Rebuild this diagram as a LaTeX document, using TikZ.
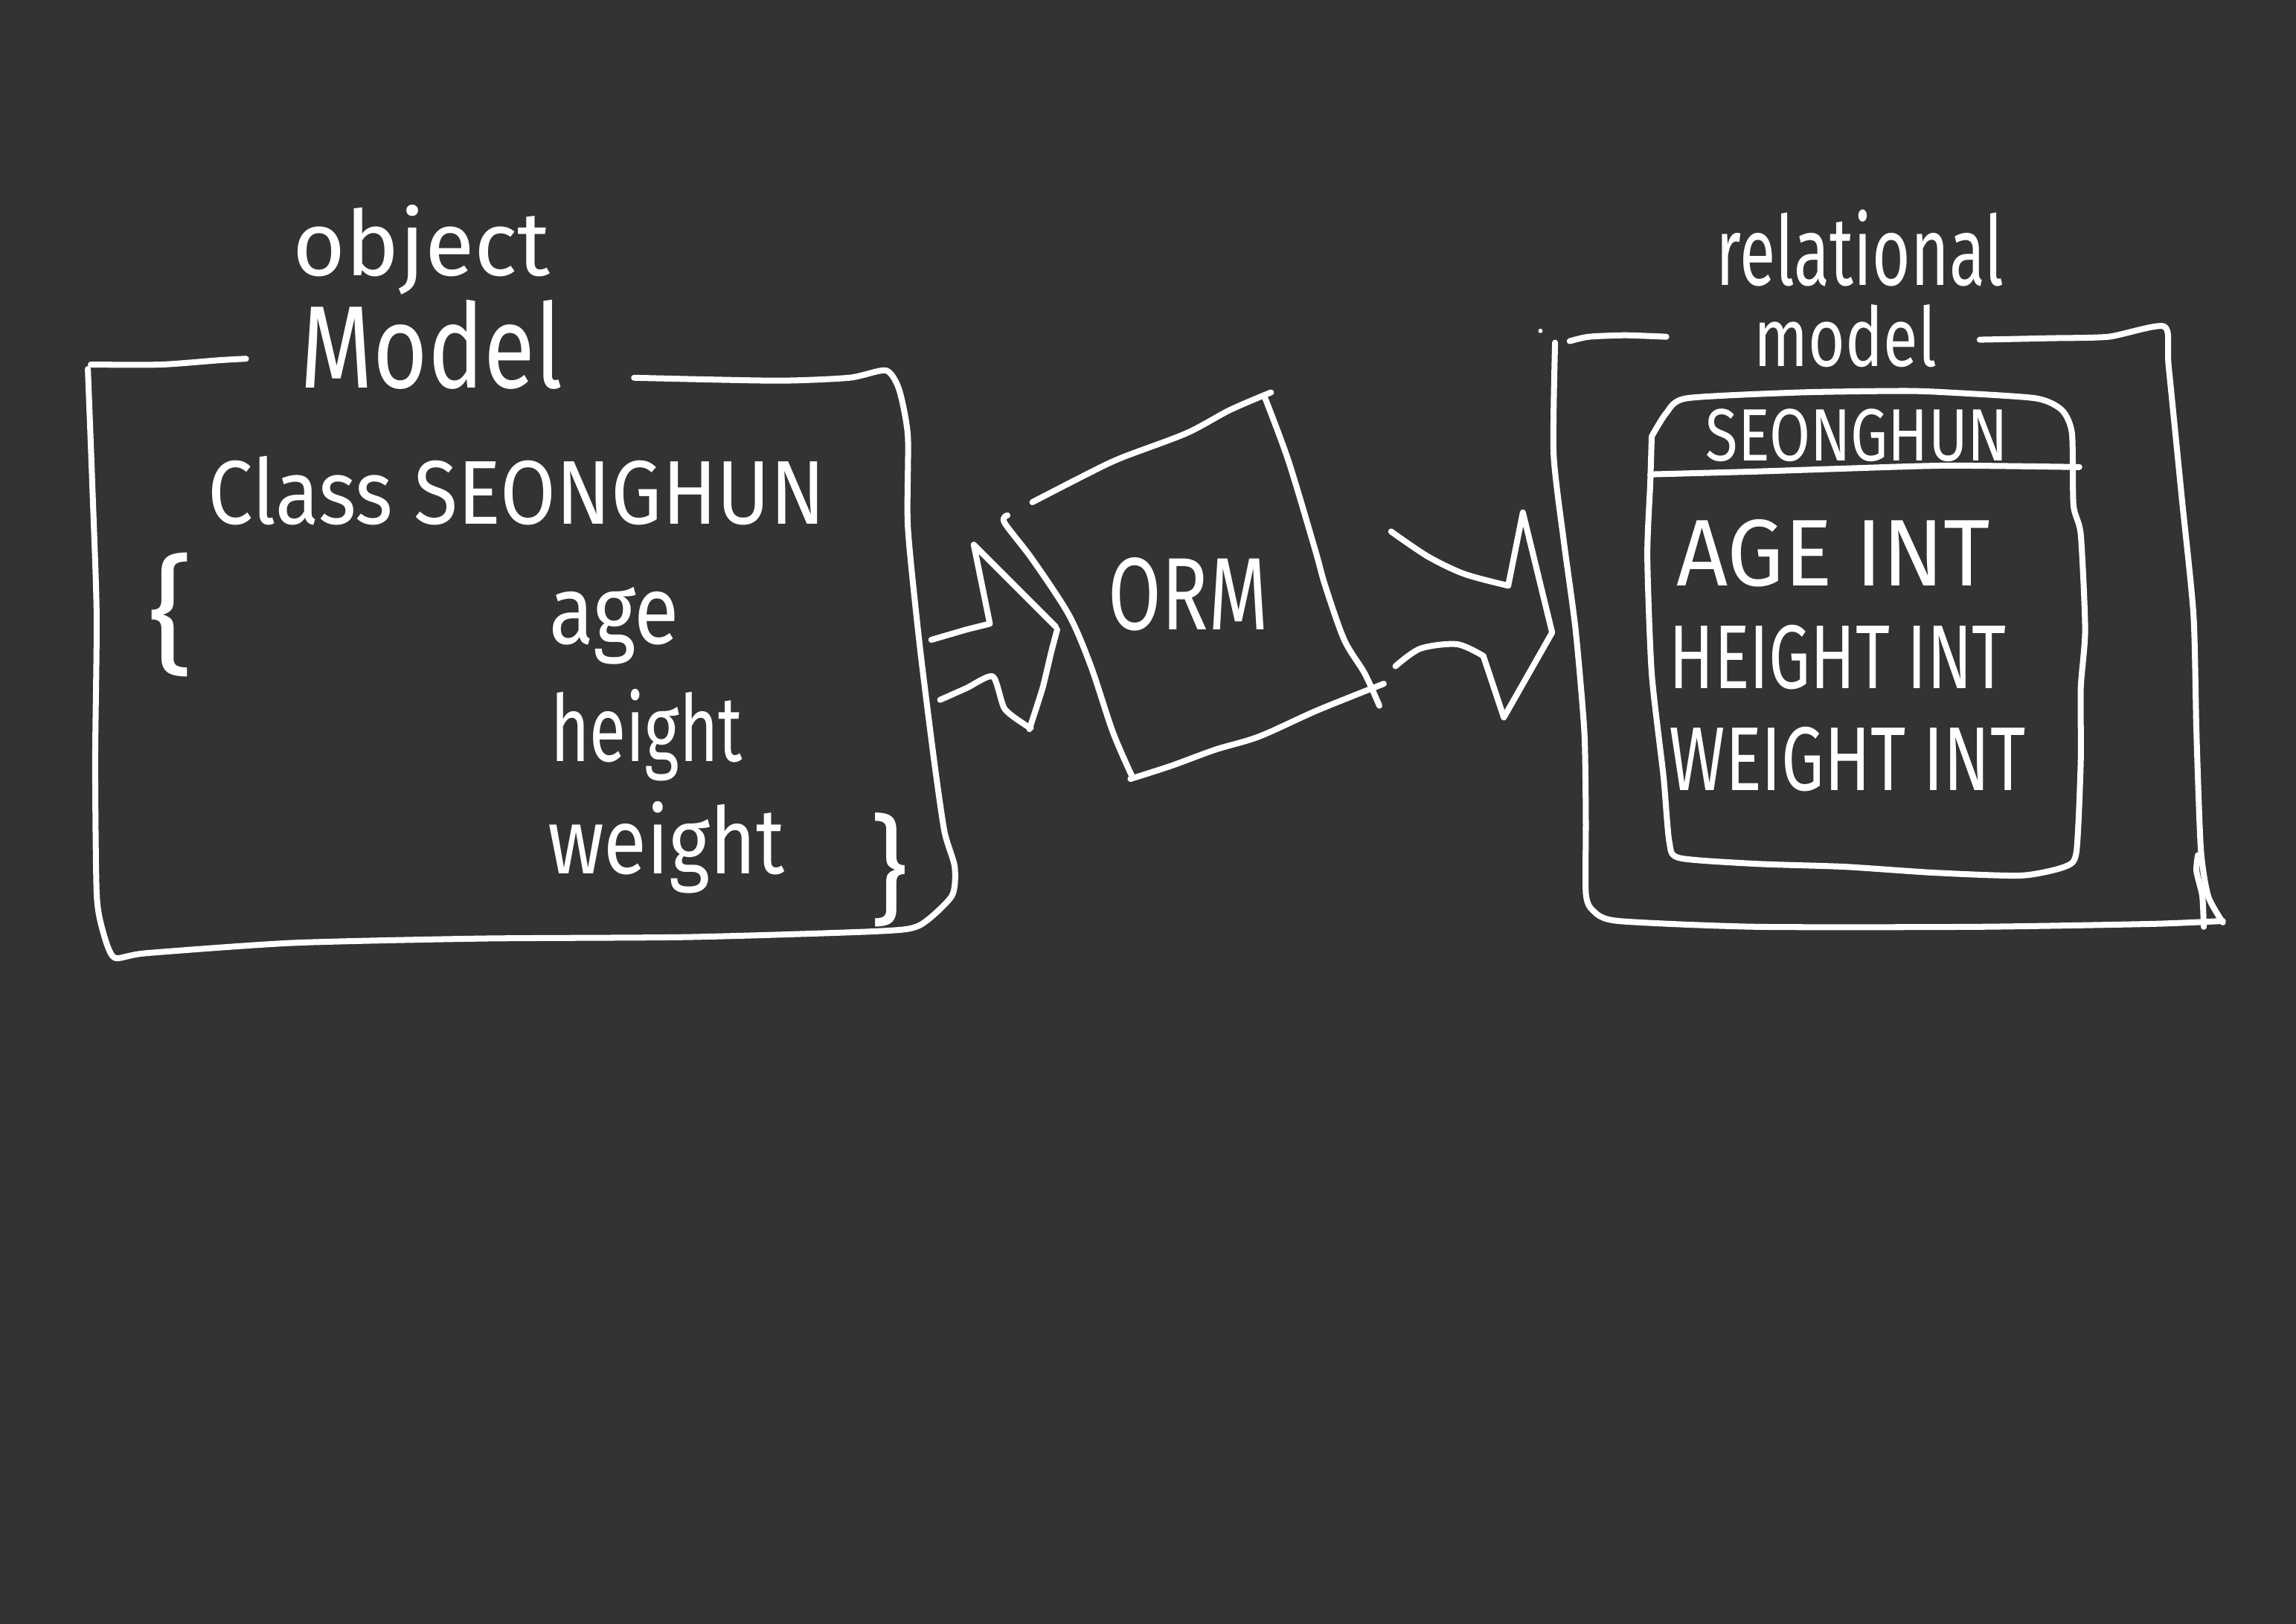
\documentclass[tikz,border=0pt]{standalone}
\usepackage{fontspec}
\setmainfont{Fira Sans}
\usepackage{graphicx}
\definecolor{bgc}{RGB}{51,51,51}
\newcommand\handtxt[3]{\fontsize{#1pt}{#1pt}\selectfont\scalebox{#2}[1]{#3}}
\begin{document}
\begin{tikzpicture}[x=0.25mm,y=-0.25mm,
 ink/.style={draw=white,line width=2.9pt,line cap=round,line join=round},
 lbl/.style={text=white,anchor=base west,inner sep=0pt,outer sep=0pt},
 brc/.style={text=white,anchor=center,inner sep=0pt,outer sep=0pt}]
\fill[bgc] (0,0) rectangle (1568,1109);
\useasboundingbox (0,0) rectangle (1568,1109);

% ---------- object model box ----------
\draw[ink] plot[smooth,tension=0.4] coordinates {(62,249) (110,249) (150,246) (168,245)};
\draw[ink] plot[smooth,tension=0.4] coordinates {(60,252) (63,330) (66,420) (65,520) (66,610) (70,635) (78,654) (100,651) (200,644) (330,641) (470,640) (600,636) (628,632) (650,612) (652,592) (645,568) (638,520) (628,440) (620,360) (620,298) (614,266) (605,253) (580,258) (530,260) (433,258)};

\node[lbl] (objT) at (200,188) {\handtxt{44}{1}{object}};
\node[lbl] (objM) at (205,265) {\handtxt{57}{0.8}{Model}};
\node[lbl] (cls) at (142,358) {\handtxt{44}{0.89}{Class SEONGHUN}};
\node[brc] (lbr) at (117,420) {\handtxt{62}{1.1}{\{}};
\node[lbl] (fage) at (375,440) {\handtxt{47}{0.85}{age}};
\node[lbl] (fhei) at (376,520) {\handtxt{45}{0.72}{height}};
\node[lbl] (fwei) at (374,597) {\handtxt{45}{0.85}{weight}};
\node[brc] (rbr) at (607,594) {\handtxt{57}{1}{\}}};

% ---------- arrow into ORM ----------
\draw[ink] (636,437) -- (660,430) -- (676,426) -- (665,372) -- (721,428);
\draw[ink] plot[smooth,tension=0.4] coordinates {(642,478) (660,470) (678,462) (686,484) (700,495) (704,497)};
\draw[ink] plot[smooth,tension=0.3] coordinates {(703,498) (712,470) (718,445) (722,430)};

% ---------- ORM box ----------
\draw[ink] plot[smooth,tension=0.5] coordinates {(705,343) (740,325) (765,313) (810,296) (840,280) (868,268)};
\draw[ink] plot[smooth,tension=0.5] coordinates {(688,352) (686,357) (705,382) (730,420) (745,455) (760,500) (773,530)};
\draw[ink] plot[smooth,tension=0.5] coordinates {(772,532) (800,523) (830,512) (860,503) (900,485) (945,467)};
\draw[ink] plot[smooth,tension=0.5] coordinates {(864,272) (880,315) (898,375) (905,400) (918,437) (932,460) (942,482)};
\node[lbl] (orm) at (757,430) {\handtxt{50}{0.75}{ORM}};

% ---------- arrow out of ORM ----------
\draw[ink] plot[smooth,tension=0.5] coordinates {(950,363) (975,380) (1000,392) (1030,400)};
\draw[ink] (1030,400) -- (1040,350) -- (1060,432) -- (1027,490) -- (1013,448);
\draw[ink] plot[smooth,tension=0.5] coordinates {(1013,448) (995,440) (970,443) (953,455)};

% ---------- relational model box ----------
\fill[white] (1052,226) circle (1.5);
\draw[ink] plot[smooth,tension=0.4] coordinates {(1072,233) (1085,230) (1110,229) (1138,230)};
\draw[ink] plot[smooth,tension=0.4] coordinates {(1062,234) (1061,310) (1068,370) (1076,430) (1082,500) (1083,560) (1083,610) (1088,622) (1105,629) (1200,633) (1350,633) (1470,631) (1518,629)};
\draw[ink] plot[smooth,tension=0.4] coordinates {(1352,232) (1400,231) (1440,230) (1478,223) (1481,250) (1490,340) (1498,420) (1500,500) (1503,580) (1508,612) (1518,630)};
\draw[ink] plot[smooth,tension=0.4] coordinates {(1501,584) (1500,595) (1504,612) (1505,633)};

\node[lbl] (relT) at (1172,195) {\handtxt{47}{0.68}{relational}};
\node[lbl] (relM) at (1198,250) {\handtxt{40}{0.77}{model}};

% ---------- table ----------
\draw[ink] plot[smooth,tension=0.4] coordinates {(1128,298) (1138,282) (1152,272) (1230,268) (1300,267) (1330,268) (1390,272) (1408,280) (1415,296) (1416,345) (1421,365) (1424,430) (1421,470) (1421,520) (1418,582) (1410,592) (1380,598) (1320,596) (1260,592) (1200,590) (1147,586) (1140,575) (1136,530) (1128,460) (1125,380) (1127,330) (1128,298)};
\draw[ink] plot[smooth,tension=0.4] coordinates {(1127,324) (1200,322) (1260,320) (1330,318) (1420,319)};

\node[lbl] (tname) at (1165,315) {\handtxt{36}{0.8}{SEONGHUN}};
\node[lbl] (cage) at (1145,400) {\handtxt{46}{0.95}{AGE INT}};
\node[lbl] (chei) at (1140,470) {\handtxt{44}{0.73}{HEIGHT INT}};
\node[lbl] (cwei) at (1140,540) {\handtxt{44}{0.75}{WEIGHT INT}};
\end{tikzpicture}
\end{document}
